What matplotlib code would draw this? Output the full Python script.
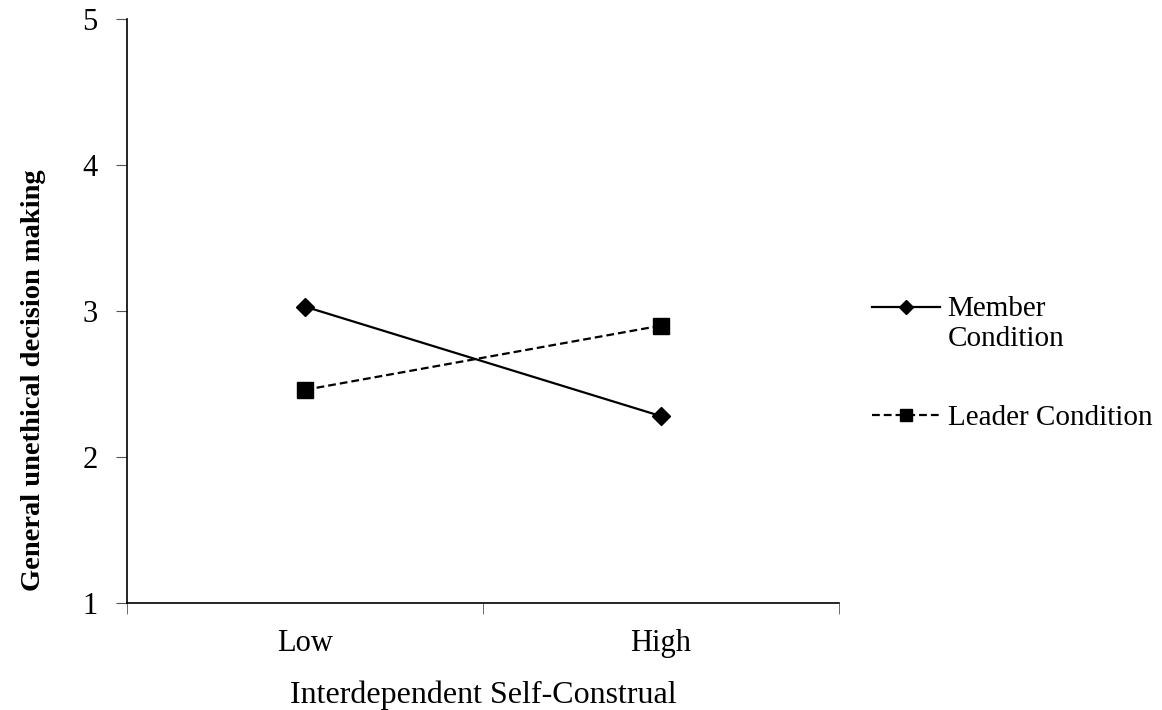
import numpy as np
import matplotlib.pyplot as plt

categories = ['Low', 'High']
member = [3.03, 2.28]
leader = [2.46, 2.90]
y_ticks = [1, 2, 3, 4, 5]

plt.rcParams['font.family'] = ['Liberation Serif', 'DejaVu Serif']
fs = 21

fig = plt.figure(figsize=(11.62, 7.10), dpi=100)
ax = fig.add_axes([0.1093, 0.1507, 0.6127, 0.8225])

x = np.arange(len(categories))
ax.plot(x, member, 'k-', marker='D', markersize=9, linewidth=1.6,
        label='Member\nCondition')
ax.plot(x, leader, 'k--', marker='s', markersize=11, linewidth=1.6,
        dashes=(3.5, 1.8), label='Leader Condition')

ax.set_xlim(-0.5, 1.5)
ax.set_ylim(1, 5)
ax.set_yticks(y_ticks)
ax.set_xticks(x)
ax.set_xticklabels(categories)
ax.set_xticks([-0.5, 0.5, 1.5], minor=True)
ax.tick_params(axis='x', which='major', length=0, pad=19, labelsize=22)
ax.tick_params(axis='x', which='minor', length=8, direction='out', color='#555555')
ax.tick_params(axis='y', length=8, direction='out', color='#555555', labelsize=22, pad=13)

for s in ['top', 'right']:
    ax.spines[s].set_visible(False)
for s in ['left', 'bottom']:
    ax.spines[s].set_linewidth(1.2)

ax.set_xlabel('Interdependent Self-Construal', fontsize=23)
ax.xaxis.set_label_coords(0.5, -0.132)
ax.set_ylabel('General unethical decision making', fontsize=20.5, fontweight='bold')
ax.yaxis.set_label_coords(-0.114, 0.382)

leg = ax.legend(loc='center left', bbox_to_anchor=(1.046, 0.41), frameon=False,
                fontsize=fs, handlelength=2.33, handletextpad=0.27,
                labelspacing=1.8, borderpad=0, borderaxespad=0, markerscale=0.8)
# put the handle level with the first line of a two-line label
for col in leg._legend_handle_box.get_children():
    for entry in col.get_children():
        entry.align = 'top'

fig.savefig('out.png', dpi=100)
